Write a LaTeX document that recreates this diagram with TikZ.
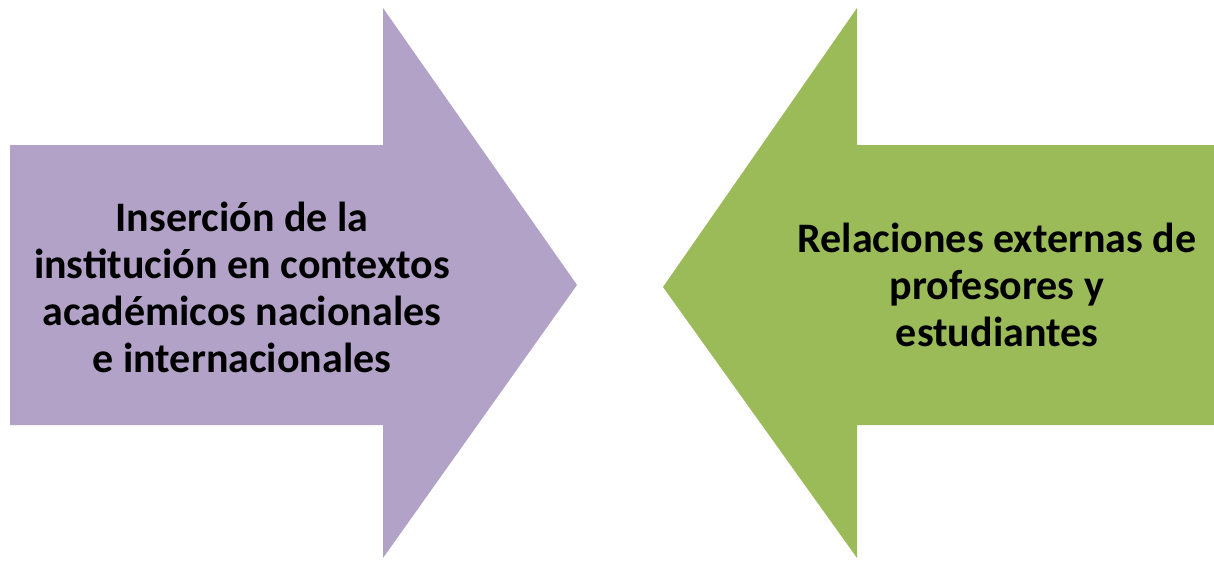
\documentclass[tikz,border=0pt]{standalone}
\usepackage{fontspec}
\setmainfont{Carlito}
\usetikzlibrary{calc}
\definecolor{lilac}{HTML}{B2A2C7}
\definecolor{olive}{HTML}{9BBB59}

\begin{document}
\begin{tikzpicture}[x=1pt,y=-1pt,
  lbl/.style={align=center, inner sep=0pt, font=\bfseries\fontsize{42}{47}\selectfont}]
\useasboundingbox (0,0) rectangle (1214,560);
% left arrow, pointing right
\fill[lilac] (10,145) -- (383,145) -- (383,8) -- (577,285) -- (383,558) -- (383,425) -- (10,425) -- cycle;
% right arrow, pointing left
\fill[olive] (1214,145) -- (857,145) -- (857,8) -- (663,287) -- (857,558) -- (857,425) -- (1214,425) -- cycle;
\node[lbl] (insercion) at (242,287) {Inserción de la\\institución en contextos\\académicos nacionales\\e internacionales};
\node[lbl] (relaciones) at (997,285) {Relaciones externas de\\profesores y\\estudiantes};
\end{tikzpicture}
\end{document}
